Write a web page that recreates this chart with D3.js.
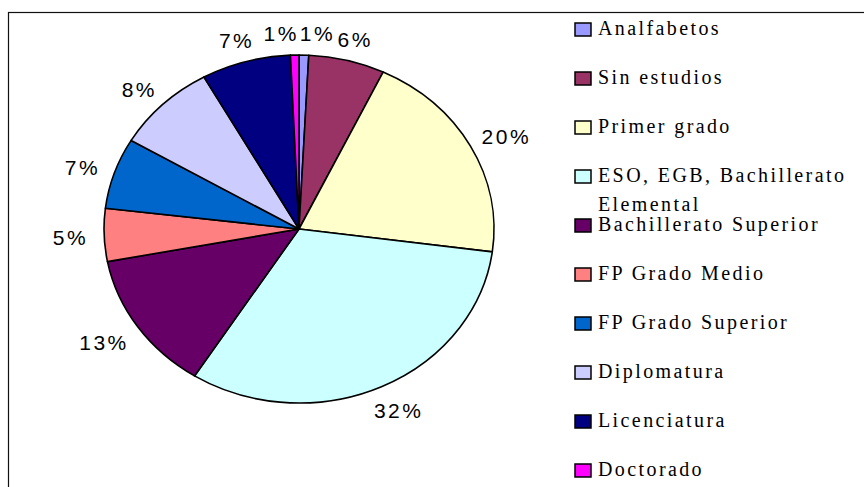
<!DOCTYPE html>
<html>
<head>
<meta charset="utf-8">
<script src="https://cdn.jsdelivr.net/npm/d3@7"></script>
<style>
  html, body { margin: 0; padding: 0; background: #fff; }
  svg { display: block; }
  .pct { font-family: "Liberation Sans", Arial, sans-serif; font-size: 21px; letter-spacing: 2.5px; fill: #000; }
  .leg { font-family: "Liberation Serif", "Times New Roman", serif; font-size: 20px; letter-spacing: 2.4px; fill: #000; }
</style>
</head>
<body>
<div id="chart"></div>
<script>
// Nivel de estudios (share of total, %)
const categories = [
    "Analfabetos", "Sin estudios", "Primer grado", "ESO, EGB, Bachillerato Elemental",
    "Bachillerato Superior", "FP Grado Medio", "FP Grado Superior", "Diplomatura",
    "Licenciatura", "Doctorado"
];
const values = [0.8, 6.3, 20.0, 31.9, 13.0, 4.9, 6.6, 8.4, 7.4, 0.7];
const colors = [
    "#9999FF", "#993366", "#FFFFCC", "#CCFFFF", "#660066",
    "#FF8080", "#0066CC", "#CCCCFF", "#000080", "#FF00FF"
];

const W = 864, H = 487;
const cx = 299, cy = 229;
const rx = 195, ry = 174;   // pie is stretched horizontally like the original

const svg = d3.select("#chart").append("svg")
    .attr("width", W)
    .attr("height", H);

// plot frame (runs off the right and bottom edge)
svg.append("rect")
    .attr("x", 8.5).attr("y", 12.5)
    .attr("width", W + 20).attr("height", H + 20)
    .attr("fill", "none")
    .attr("stroke", "#111")
    .attr("stroke-width", 1.2);

const total = d3.sum(values);
const pie = d3.pie().sort(null).value(d => d);
const arcs = pie(values);
const arc = d3.arc().innerRadius(0).outerRadius(ry);

const g = svg.append("g")
    .attr("transform", `translate(${cx},${cy}) scale(${rx / ry},1)`);

g.selectAll("path")
    .data(arcs)
    .enter()
    .append("path")
    .attr("d", arc)
    .attr("fill", (d, i) => colors[i])
    .attr("stroke", "#000")
    .attr("stroke-width", 1.6)
    .attr("vector-effect", "non-scaling-stroke")
    .attr("stroke-linejoin", "round");

// percentage labels outside the pie
const gap = 16;
const labels = svg.append("g").selectAll("text")
    .data(arcs)
    .enter()
    .append("text")
    .attr("class", "pct")
    .attr("text-anchor", "middle")
    .attr("dominant-baseline", "central")
    .text(d => Math.round(d.value / total * 100) + "%");

const boxes = [];
labels.each(function (d) {
    const w = this.getComputedTextLength();
    const h = 16;
    const a = (d.startAngle + d.endAngle) / 2;
    const s = Math.sin(a), c = Math.cos(a);
    boxes.push({
        node: this,
        w: w, h: h,
        x: cx + (rx + gap) * s + s * w / 2,
        y: cy - (ry + gap) * c - c * h / 2 + 2
    });
});

// push apart labels that overlap (the crowded ones at the top)
for (let it = 0; it < 50; it++) {
    let moved = false;
    for (let i = 0; i < boxes.length; i++) {
        for (let j = i + 1; j < boxes.length; j++) {
            const a = boxes[i], b = boxes[j];
            const needX = (a.w + b.w) / 2 + 1;
            const dy = Math.abs(a.y - b.y);
            if (dy < (a.h + b.h) / 2) {
                const dx = b.x - a.x;
                if (Math.abs(dx) < needX) {
                    const push = (needX - Math.abs(dx)) / 2;
                    const dir = dx >= 0 ? 1 : -1;
                    a.x -= push * dir;
                    b.x += push * dir;
                    moved = true;
                }
            }
        }
    }
    if (!moved) break;
}
boxes.forEach(b => d3.select(b.node).attr("x", b.x).attr("y", b.y));

// legend
const legX = 575, legY0 = 35, legStep = 49, maxTextW = 258, lineH = 29;
const leg = svg.append("g");
categories.forEach((name, i) => {
    const y = legY0 + i * legStep;
    leg.append("rect")
        .attr("x", legX).attr("y", y - 12)
        .attr("width", 16).attr("height", 13)
        .attr("fill", colors[i])
        .attr("stroke", "#000")
        .attr("stroke-width", 1.5);

    const t = leg.append("text")
        .attr("class", "leg")
        .attr("x", legX + 23)
        .attr("y", y);
    // wrap long names like Excel does
    const words = name.split(" ");
    let line = [];
    let span = t.append("tspan").attr("x", legX + 23).attr("y", y);
    let lineNo = 0;
    words.forEach(word => {
        line.push(word);
        span.text(line.join(" "));
        if (span.node().getComputedTextLength() > maxTextW && line.length > 1) {
            line.pop();
            span.text(line.join(" "));
            line = [word];
            lineNo++;
            span = t.append("tspan")
                .attr("x", legX + 23)
                .attr("y", y + lineNo * lineH)
                .text(word);
        }
    });
});
</script>
</body>
</html>
